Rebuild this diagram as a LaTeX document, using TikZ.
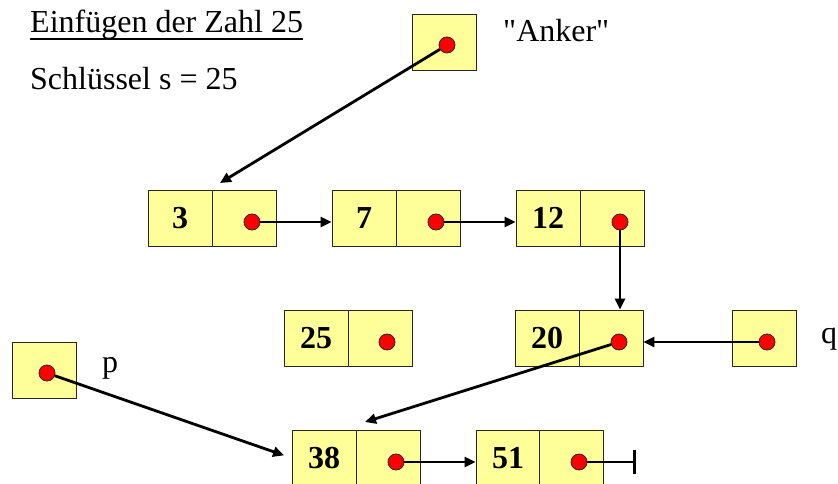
\documentclass[tikz,border=0pt]{standalone}
\usepackage{fontspec}
\setmainfont{Liberation Serif}[Ligatures=TeXOff]
\usetikzlibrary{arrows.meta}
\definecolor{cellfill}{HTML}{FFFF99}
\definecolor{dotred}{HTML}{FF0000}

\begin{document}
\begin{tikzpicture}[x=1pt,y=-1pt,
  cell/.style={draw=black!85, line width=0.8pt, fill=cellfill,
    minimum width=64pt, minimum height=56pt, inner sep=0pt,
    font=\fontsize{32}{38}\selectfont\bfseries},
  dot/.style={circle, draw=black!85, line width=0.8pt, fill=dotred,
    minimum size=16pt, inner sep=0pt},
  link/.style={line width=2.8pt, -{Triangle[length=11pt,width=10pt]}},
  txt/.style={font=\fontsize{32}{38}\selectfont, anchor=base west, inner sep=0pt}
]
\useasboundingbox (0,0) rectangle (838,484);

% headings
\node[txt] (title) at (30,33) {Einfügen der Zahl 25};
\draw[line width=1.3pt] ([yshift=-6pt]title.base west) -- ([yshift=-6pt]title.base east);
\node[txt] (key) at (30,90) {Schlüssel s = 25};

% anchor pointer
\node[cell] (anker) at (444,42) {};
\node[dot] (danker) at (447,45) {};
\node[txt] (ankerlbl) at (503,42) {"Anker"};

% first row: 3 -> 7 -> 12
\node[cell] (k3) at (180,218) {3};
\node[cell] (p3) at (244,218) {};
\node[dot]  (d3) at (252,222) {};
\node[cell] (k7) at (364,218) {7};
\node[cell] (p7) at (428,218) {};
\node[dot]  (d7) at (436,222) {};
\node[cell] (k12) at (548,218) {12};
\node[cell] (p12) at (612,218) {};
\node[dot]  (d12) at (620,222) {};

% second row: new element 25, element 20, pointer q
\node[cell] (k25) at (316,338) {25};
\node[cell] (p25) at (380,338) {};
\node[dot]  (d25) at (387,342) {};
\node[cell] (k20) at (547,338) {20};
\node[cell] (p20) at (611,338) {};
\node[dot]  (d20) at (619,342) {};
\node[cell] (q) at (764,338) {};
\node[dot]  (dq) at (767,342) {};
\node[txt]  (qlbl) at (821,343) {q};

% pointer p
\node[cell] (p) at (44,370) {};
\node[dot]  (dp) at (47,373) {};
\node[txt]  (plbl) at (102,372) {p};

% third row: 38 -> 51 -> nil
\node[cell] (k38) at (324,458) {38};
\node[cell] (p38) at (388,458) {};
\node[dot]  (d38) at (396,462) {};
\node[cell] (k51) at (508,458) {51};
\node[cell] (p51) at (571,458) {};
\node[dot]  (d51) at (579,462) {};

\coordinate (a3) at (220,183);
\coordinate (a38) at (365,422);
\coordinate (nil) at (636,462);

% links
\draw[link] (danker) -- (a3);
\draw[link] (d3) -- (d3 -| k7.west);
\draw[link] (d7) -- (d7 -| k12.west);
\draw[link] (d12) -- (d12 |- p20.north);
\draw[link] (dq) -- (dq -| p20.east);
\draw[link] (d20) -- (a38);
\draw[link, shorten >=8pt] (dp) -- (k38.west);
\draw[link] (d38) -- (d38 -| k51.west);
\draw[line width=2.8pt, -{Bar[width=24pt]}] (d51) -- (nil);
\end{tikzpicture}
\end{document}
